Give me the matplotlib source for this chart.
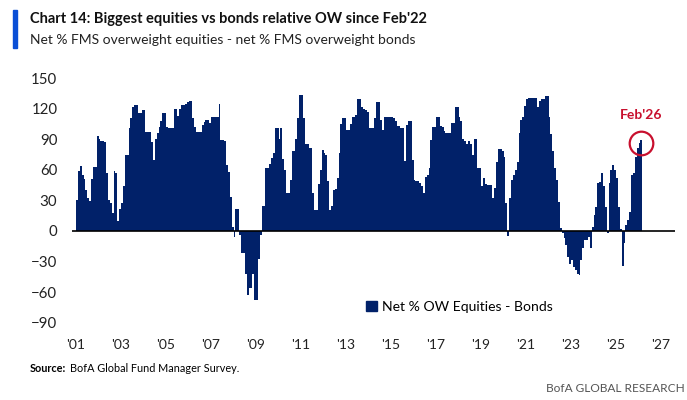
import numpy as np
import matplotlib.pyplot as plt
from matplotlib.patches import Patch, Rectangle

plt.rcParams['font.family'] = ['Lato', 'DejaVu Sans']

# Monthly net % equities OW minus net % bonds OW, Jan 2001 - Feb 2026
start_year = 2001
y2001 = [30, 59, 64, 55, 51, 40, 32, 29, 51, 63, 63, 93]
y2002 = [90, 88, 88, 87, 57, 30, 27, 18, 59, 57, 10, 22]
y2003 = [27, 44, 75, 75, 101, 111, 122, 124, 124, 116, 116, 119]
y2004 = [119, 97, 97, 97, 87, 70, 90, 96, 102, 108, 116, 116]
y2005 = [102, 101, 101, 101, 120, 120, 113, 120, 124, 124, 125, 126]
y2006 = [127, 127, 111, 102, 97, 97, 97, 104, 107, 109, 109, 106]
y2007 = [112, 112, 112, 112, 125, 89, 89, 88, 65, 58, 33, 4]
y2008 = [-6, 22, 22, -4, -22, -22, -42, -63, -56, -56, -42, -68]
y2009 = [-68, -27, -4, 25, 25, 62, 62, 66, 72, 76, 101, 101]
y2010 = [90, 101, 71, 60, 37, 37, 50, 78, 78, 90, 111, 133]
y2011 = [133, 111, 85, 85, 81, 81, 37, 21, 21, 46, 60, 79]
y2012 = [76, 75, 49, 21, 25, 40, 41, 52, 76, 105, 111, 111]
y2013 = [99, 99, 105, 112, 112, 114, 129, 129, 122, 120, 119, 117]
y2014 = [101, 101, 101, 111, 126, 126, 109, 99, 112, 112, 112, 112]
y2015 = [112, 111, 108, 103, 103, 101, 101, 69, 104, 108, 108, 70]
y2016 = [50, 49, 49, 47, 44, 37, 53, 55, 62, 89, 102, 102]
y2017 = [112, 112, 103, 102, 98, 96, 96, 96, 106, 106, 122, 122]
y2018 = [112, 108, 90, 88, 85, 88, 85, 75, 90, 90, 62, 62]
y2019 = [44, 52, 46, 45, 45, 45, 32, 42, 68, 80, 80, 78]
y2020 = [73, 27, -5, 32, 50, 55, 60, 68, 96, 109, 112, 123]
y2021 = [129, 130, 130, 130, 130, 130, 122, 127, 129, 129, 132, 132]
y2022 = [112, 95, 78, 62, 50, 28, 3, -2, -7, -14, -25, -32]
y2023 = [-28, -35, -38, -42, -43, -28, -17, -9, -9, -6, -17, 4]
y2024 = [16, 24, 47, 48, 57, 44, 24, -2, 47, 60, 65, 60]
y2025 = [52, 24, 2, -34, -12, 6, 11, 19, 55, 57, 73, 81]
y2026 = [86, 89]

values = np.array(y2001 + y2002 + y2003 + y2004 + y2005 + y2006 + y2007 + y2008
                  + y2009 + y2010 + y2011 + y2012 + y2013 + y2014 + y2015 + y2016
                  + y2017 + y2018 + y2019 + y2020 + y2021 + y2022 + y2023 + y2024
                  + y2025 + y2026)
months = start_year + np.arange(len(values)) / 12.0

tick_years = list(range(2001, 2028, 2))
tick_labels = ["'%02d" % (y % 100) for y in tick_years]
y_ticks = [150, 120, 90, 60, 30, 0, -30, -60, -90]

navy = '#012169'
red = '#C8102E'
grey = '#222222'

fig = plt.figure(figsize=(6.87, 4.0), dpi=100)
ax = fig.add_axes([0.1048, 0.193, 0.8777, 0.612])

ax.bar(months, values, width=1 / 12.0, align='edge', color=navy, linewidth=0)
ax.axhline(0, color='black', linewidth=1.2)

ax.set_xlim(2000.82, 2027.62)
ax.set_ylim(-90, 150)
ax.set_xticks(tick_years)
ax.set_xticklabels(tick_labels)
ax.set_yticks(y_ticks)
ax.tick_params(axis='both', length=0, labelsize=10, colors=grey)
ax.tick_params(axis='y', pad=10.5, labelsize=10.8)
ax.tick_params(axis='x', pad=12)
for s in ax.spines.values():
    s.set_visible(False)

# Feb'26 highlight
last_x = months[-1] + 1 / 24.0
ax.plot(last_x, values[-1] - 3, marker='o', markersize=17, markerfacecolor='none',
        markeredgecolor=red, markeredgewidth=1.6, clip_on=False)
ax.annotate("Feb'26", xy=(last_x, values[-1]), xytext=(0, 18), textcoords='offset points',
            ha='center', va='center', color=red, fontsize=10, fontweight='bold')

ax.legend(handles=[Patch(facecolor=navy, edgecolor=navy)], labels=['Net % OW Equities - Bonds'],
          loc='center left', bbox_to_anchor=(0.466, 0.065), frameon=False, fontsize=10.1,
          handlelength=0.8, handleheight=0.8, handletextpad=0.4, labelcolor='black')

# header / footer
fig.patches.append(Rectangle((0.019, 0.88), 0.006, 0.095, transform=fig.transFigure,
                             color='#0A4FD6', zorder=5))
fig.text(0.0437, 0.953, "Chart 14: Biggest equities vs bonds relative OW since Feb'22",
         fontsize=10.5, fontweight='bold', va='center', ha='left', color='#111111')
fig.text(0.0437, 0.9, "Net % FMS overweight equities - net % FMS overweight bonds",
         fontsize=10, va='center', ha='left', color='#222222')
fig.text(0.0437, 0.08, "Source:", fontsize=7.8, fontweight='bold', va='center', ha='left')
fig.text(0.1025, 0.08, "BofA Global Fund Manager Survey.", fontsize=7.8, va='center', ha='left')
fig.text(0.997, 0.03, "BofA GLOBAL RESEARCH", fontsize=8.6, va='center', ha='right', color='#555555')

fig.savefig('out.png', dpi=100)
